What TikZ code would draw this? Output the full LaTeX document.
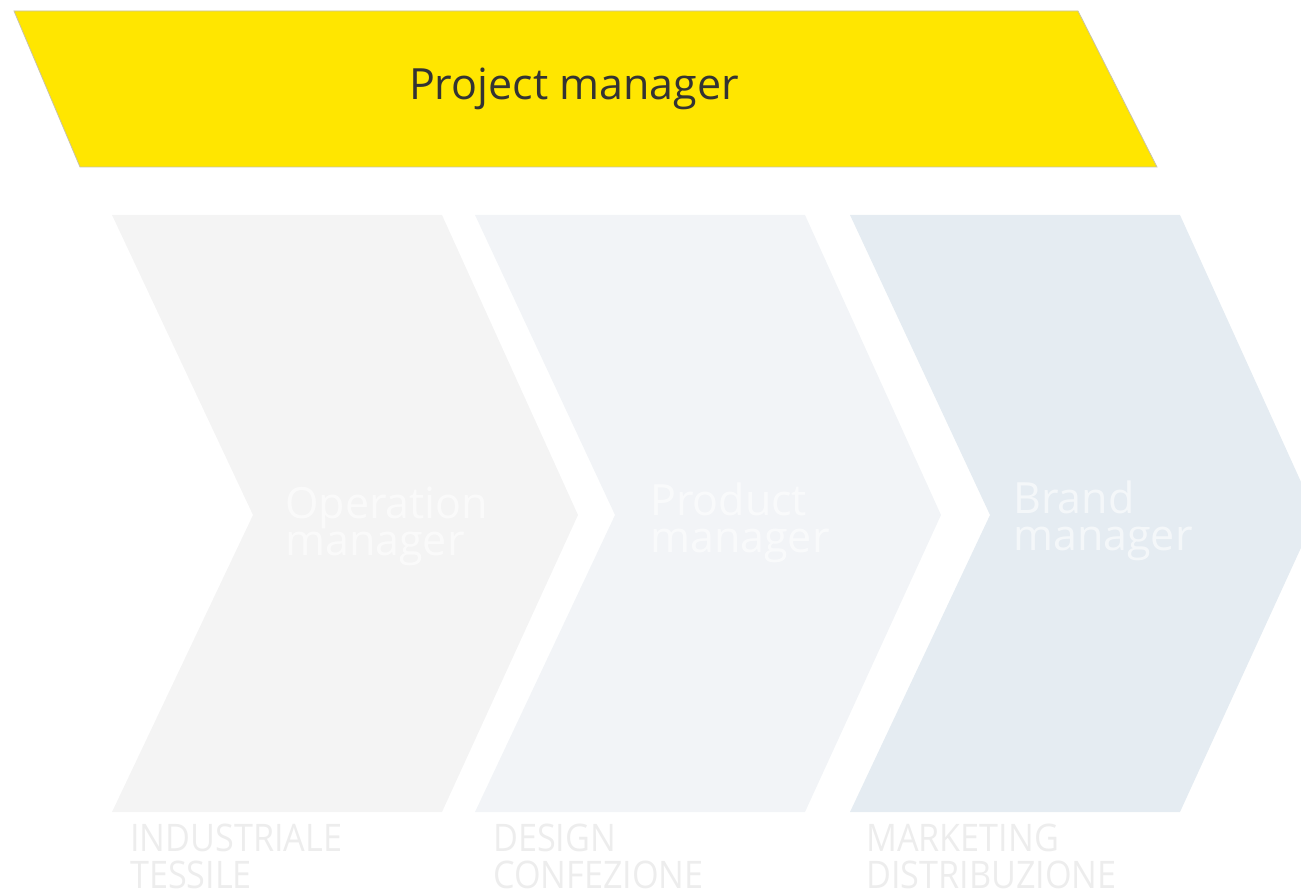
\documentclass[tikz,border=0pt]{standalone}
\usepackage{fontspec}
\setmainfont{Open Sans}
\newfontfamily\narrowsans{Open Sans}[FakeStretch=0.9]
\definecolor{pmyellow}{HTML}{FFE600}
\definecolor{pmedge}{HTML}{C9C3A6}
\definecolor{chevA}{HTML}{F4F4F4}
\definecolor{chevB}{HTML}{F2F4F7}
\definecolor{chevC}{HTML}{E5ECF2}
\definecolor{lbl}{HTML}{EDEDED}
\definecolor{titletext}{HTML}{333333}
\tikzset{
  chevtext/.style={anchor=base west, inner sep=0pt, text=white, text opacity=0.6,
    font=\fontsize{43}{37}\selectfont},
  bottomlbl/.style={anchor=base west, inner sep=0pt, text=lbl,
    font=\narrowsans\fontsize{38}{37}\selectfont},
}
\begin{document}
\begin{tikzpicture}[x=1pt,y=-1pt]
\useasboundingbox (0,0) rectangle (1301,893);
\clip (0,0) rectangle (1301,893);
% project manager band
\fill[pmyellow] (14,11) -- (1078,11) -- (1157,167) -- (80,167) -- cycle;
\draw[pmedge, line width=0.8pt] (14,11) -- (1078,11) -- (1157,167) -- (80,167) -- cycle;
\node[anchor=base, inner sep=0pt, text=titletext, font=\fontsize{43}{50}\selectfont] (pm) at (574,100) {Project manager};
% chevrons
\fill[chevA] (112,215) -- (442,215) -- (578,515) -- (442,812) -- (112,812) -- (253,515) -- cycle;
\fill[chevB] (475,215) -- (805,215) -- (941,515) -- (805,812) -- (475,812) -- (615,515) -- cycle;
\fill[chevC] (850,215) -- (1180,215) -- (1316,515) -- (1180,812) -- (850,812) -- (990,515) -- cycle;
% chevron labels
\node[chevtext] (op1) at (285,518) {Operation};
\node[chevtext] (op2) at (285,555) {manager};
\node[chevtext] (pr1) at (650,515) {Product};
\node[chevtext] (pr2) at (650,552) {manager};
\node[chevtext] (br1) at (1013,513) {Brand};
\node[chevtext] (br2) at (1013,550) {manager};
% bottom labels
\node[bottomlbl] (l1a) at (130,851) {INDUSTRIALE};
\node[bottomlbl] (l1b) at (130,888) {TESSILE};
\node[bottomlbl] (l2a) at (493,851) {DESIGN};
\node[bottomlbl] (l2b) at (493,888) {CONFEZIONE};
\node[bottomlbl] (l3a) at (866,851) {MARKETING};
\node[bottomlbl] (l3b) at (866,888) {DISTRIBUZIONE};
\end{tikzpicture}
\end{document}
